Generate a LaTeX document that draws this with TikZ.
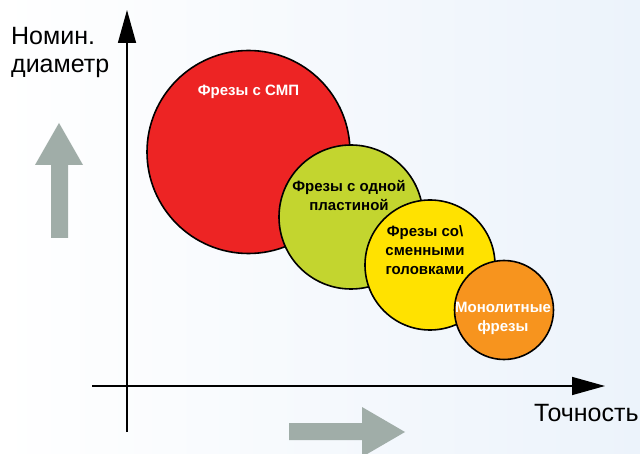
\documentclass[tikz,border=0pt]{standalone}
\usepackage{fontspec}
\setmainfont{Liberation Sans}
\usetikzlibrary{arrows.meta,calc,positioning}

\definecolor{smpred}{RGB}{237,36,36}
\definecolor{plategreen}{RGB}{195,213,47}
\definecolor{headyellow}{RGB}{255,226,0}
\definecolor{solidorange}{RGB}{247,148,30}
\definecolor{hintgray}{RGB}{160,173,168}
\definecolor{bgblue}{RGB}{236,243,251}

\begin{document}
\begin{tikzpicture}[x=1pt,y=-1pt,
tool/.style={circle,draw=black,line width=1.6pt,inner sep=0pt},
tooltext/.style={font=\bfseries\fontsize{15}{19}\selectfont,align=center,inner sep=0pt},
axislabel/.style={font=\fontsize{25}{28}\selectfont,align=left,inner sep=0pt},
axisline/.style={line width=1.5pt,-{Triangle[length=33pt,width=18pt]}},
hint/.style={fill=hintgray}]

% background
\useasboundingbox (0,0) rectangle (640,454);
\clip (0,0) rectangle (640,454);
\shade[left color=white,right color=bgblue] (0,0) rectangle (640,454);

% hint arrows
\fill[hint] (51,238) -- (51,165) -- (35,165) -- (59,123) -- (83,165) -- (68,165) -- (68,238) -- cycle;
\fill[hint] (289,423) -- (362,423) -- (362,407) -- (405,432) -- (362,457) -- (362,440) -- (289,440) -- cycle;

% axes
\coordinate (yfoot) at (127,432);
\coordinate (ytip) at (127,10);
\coordinate (xfoot) at (92,386);
\coordinate (xtip) at (605,386);
\draw[axisline] (yfoot) -- (ytip);
\draw[axisline] (xfoot) -- (xtip);
\node[axislabel,anchor=north west] (diam) at (11,27) {Номин.\\диаметр};
\node[axislabel,anchor=west] (prec) at (534,413) {Точность};

% tool groups
\node[tool,fill=smpred,minimum size=203pt] (smp) at (248.5,152) {};
\node[tool,fill=plategreen,minimum size=144pt] (plate) at (351,217) {};
\node[tool,fill=headyellow,minimum size=130pt] (heads) at (430,265) {};
\node[tool,fill=solidorange,minimum size=99pt] (solid) at (504,310) {};

\node[tooltext,text=white] (smptext) at ($(smp.center)+(0,-60)$) {Фрезы с СМП};
\node[tooltext] (platetext) at ($(plate.center)+(-2,-22)$) {Фрезы с одной\\пластиной};
\node[tooltext] (headstext) at ($(heads.center)+(-5,-15)$) {Фрезы со\textbackslash\\сменными\\головками};
\node[tooltext,text=white] (solidtext) at ($(solid.center)+(-1,8)$) {Монолитные\\фрезы};
\end{tikzpicture}
\end{document}
